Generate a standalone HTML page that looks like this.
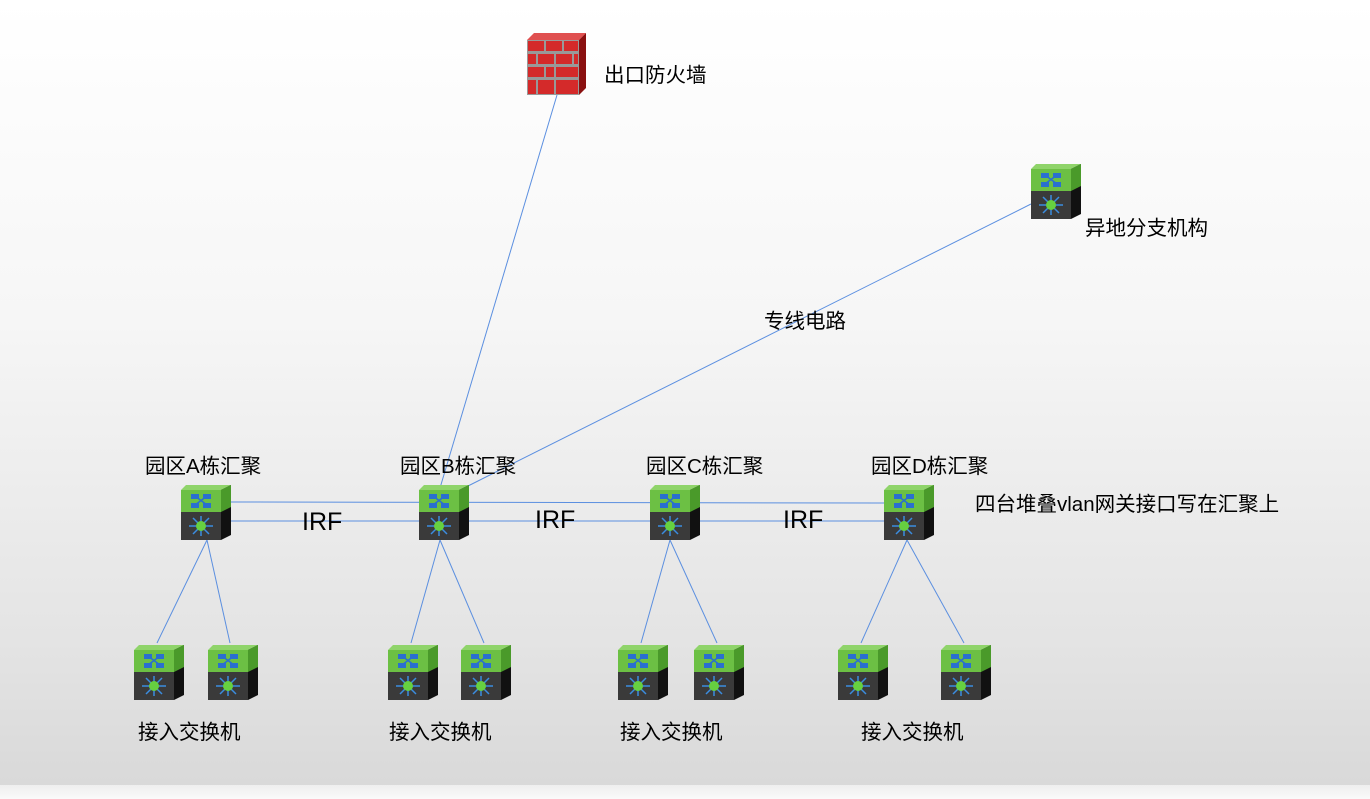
<!DOCTYPE html>
<html><head><meta charset="utf-8"><style>
html,body{margin:0;padding:0}
body{width:1370px;height:799px;overflow:hidden;background:linear-gradient(#ffffff 0%,#f6f6f6 40%,#e4e4e4 80%,#d9d9d9 98%);}
svg{position:absolute;left:0;top:0}
text{font-family:"Liberation Sans","Noto Sans CJK SC",sans-serif;font-size:20.5px;fill:#000}
</style></head><body>
<div style="position:absolute;left:0;top:785px;width:1370px;height:14px;background:linear-gradient(#eeeeee,#fafafa)"></div>
<svg width="1370" height="799" viewBox="0 0 1370 799">
<defs>
<g id="sw">
<polygon points="0,5 5,0 50,0 40,5" fill="#8fd46a"/>
<polygon points="40,5 50,0 50,50 40,55" fill="#111"/>
<polygon points="40,5 50,0 50,22 40,27" fill="#4a9a2a"/>
<rect x="0" y="5" width="40" height="22" fill="#6cc044"/>
<rect x="0" y="27" width="40" height="28" fill="#3a3a3a"/>
<rect x="10" y="9" width="8" height="5" fill="#2a6fd0"/>
<rect x="22" y="9" width="8" height="5" fill="#2a6fd0"/>
<rect x="10" y="18" width="8" height="5" fill="#2a6fd0"/>
<rect x="22" y="18" width="8" height="5" fill="#2a6fd0"/>
<path d="M14,11 L26,20 M26,11 L14,20" stroke="#2a6fd0" stroke-width="1.5"/>
<path d="M8,41 H32 M20,31 V51 M12,33 L28,49 M28,33 L12,49" stroke="#3b8de0" stroke-width="1.5"/>
<circle cx="20" cy="41" r="5" fill="#66d040"/>
</g>
</defs>
<g stroke="#5b8fe0" stroke-width="1" fill="none">
<line x1="557" y1="95" x2="440" y2="488"/>
<line x1="1031" y1="204" x2="462" y2="489"/>
<line x1="231" y1="502" x2="884" y2="503"/>
<line x1="231" y1="521" x2="884" y2="521"/>
<line x1="207" y1="540" x2="157" y2="643"/><line x1="207" y1="540" x2="230" y2="643"/>
<line x1="440" y1="540" x2="411" y2="643"/><line x1="440" y1="540" x2="484" y2="643"/>
<line x1="670" y1="540" x2="641" y2="643"/><line x1="670" y1="540" x2="717" y2="643"/>
<line x1="907" y1="540" x2="861" y2="643"/><line x1="907" y1="540" x2="964" y2="643"/>
</g>
<use href="#sw" x="181" y="485"/><use href="#sw" x="419" y="485"/>
<use href="#sw" x="650" y="485"/><use href="#sw" x="884" y="485"/>
<use href="#sw" x="1031" y="164"/>
<use href="#sw" x="134" y="645"/><use href="#sw" x="208" y="645"/>
<use href="#sw" x="388" y="645"/><use href="#sw" x="461" y="645"/>
<use href="#sw" x="618" y="645"/><use href="#sw" x="694" y="645"/>
<use href="#sw" x="838" y="645"/><use href="#sw" x="941" y="645"/>
<g>
<polygon points="527,40 534,33 586,33 579,40" fill="#e05050"/>
<polygon points="579,40 586,33 586,88 579,95" fill="#8a1010"/>
<rect x="527" y="40" width="52" height="55" fill="#999"/>
<g fill="#d42a2a">
<rect x="528" y="41" width="16" height="10"/><rect x="546" y="41" width="16" height="10"/><rect x="564" y="41" width="14" height="10"/>
<rect x="528" y="54" width="8" height="10"/><rect x="538" y="54" width="16" height="10"/><rect x="556" y="54" width="16" height="10"/><rect x="574" y="54" width="4" height="10"/>
<rect x="528" y="67" width="16" height="10"/><rect x="546" y="67" width="8" height="10"/><rect x="556" y="67" width="22" height="10"/>
<rect x="528" y="80" width="8" height="14"/><rect x="538" y="80" width="16" height="14"/><rect x="556" y="80" width="22" height="14"/>
</g>
</g>
<text x="604" y="82">出口防火墙</text>
<text x="1085" y="235">异地分支机构</text>
<text x="764" y="328">专线电路</text>
<text x="145" y="473">园区A栋汇聚</text>
<text x="400" y="473">园区B栋汇聚</text>
<text x="646" y="473">园区C栋汇聚</text>
<text x="871" y="473">园区D栋汇聚</text>
<text x="975" y="511">四台堆叠vlan网关接口写在汇聚上</text>
<text x="302" y="530" style="font-size:25px">IRF</text>
<text x="535" y="528" style="font-size:25px">IRF</text>
<text x="783" y="528" style="font-size:25px">IRF</text>
<text x="138" y="739">接入交换机</text>
<text x="389" y="739">接入交换机</text>
<text x="620" y="739">接入交换机</text>
<text x="861" y="739">接入交换机</text>
</svg>
</body></html>
